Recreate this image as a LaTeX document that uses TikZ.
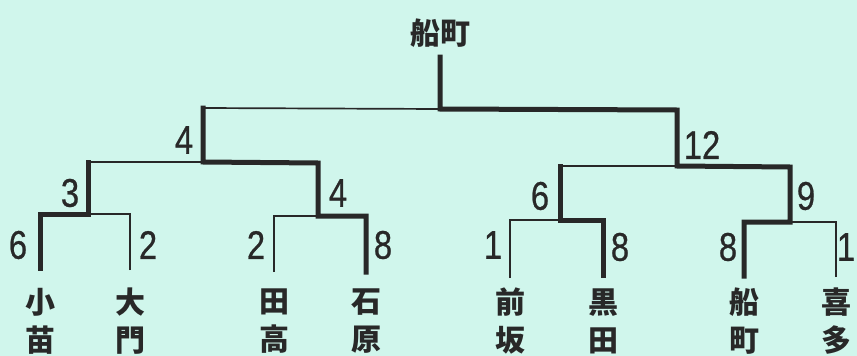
\documentclass[tikz,border=0pt]{standalone}
\usepackage{fontspec}
\newfontfamily\cjk{Noto Sans CJK JP}
\newfontfamily\numfont[FakeStretch=0.82,FakeBold=0.6]{Liberation Sans}
\definecolor{bg}{RGB}{208,246,236}
\definecolor{ink}{RGB}{40,40,40}
\begin{document}
\begin{tikzpicture}[x=1pt,y=-1pt,
  thickline/.style={draw=ink,line width=5pt,line join=miter,line cap=rect},
  thinline/.style={draw=ink,line width=1.7pt,line join=miter},
  num/.style={inner sep=0pt,text=ink,font=\numfont\fontsize{40}{40}\selectfont},
  team/.style={inner sep=0pt,text=ink,align=center,font=\cjk\bfseries\fontsize{30}{38}\selectfont}]
\fill[bg] (0,0) rectangle (857,356);
\clip (0,0) rectangle (857,356);
\useasboundingbox (0,0) rectangle (857,356);

% team names
\node[team] (t1) at (40,321) {小\\苗};
\node[team] (t2) at (130,321) {大\\門};
\node[team] (t3) at (274,321) {田\\高};
\node[team] (t4) at (366,321) {石\\原};
\node[team] (t5) at (510,321) {前\\坂};
\node[team] (t6) at (603,321) {黒\\田};
\node[team] (t7) at (744,321) {船\\町};
\node[team] (t8) at (836,321) {喜\\多};
\node[team] (champ) at (440,33) {船町};

% leaf tops
\coordinate (l1) at (40,268);  \coordinate (j1a) at (40,214);
\coordinate (l2) at (130,270); \coordinate (j1b) at (130,214);
\coordinate (l3) at (274,272); \coordinate (j2a) at (274,216);
\coordinate (l4) at (366,272); \coordinate (j2b) at (366,216);
\coordinate (l5) at (510,278); \coordinate (j3a) at (510,220);
\coordinate (l6) at (603,275); \coordinate (j3b) at (603,220);
\coordinate (l7) at (744,276); \coordinate (j4a) at (744,222);
\coordinate (l8) at (836,277); \coordinate (j4b) at (836,222);
% second level
\coordinate (m1) at (88,214);  \coordinate (m1t) at (88,162);
\coordinate (m2) at (318,216); \coordinate (m2t) at (318,163);
\coordinate (m3) at (560,220); \coordinate (m3t) at (560,166);
\coordinate (m4) at (790,222); \coordinate (m4t) at (790,167);
% third level
\coordinate (s1) at (203,162); \coordinate (s1t) at (203,108);
\coordinate (s2) at (677,166); \coordinate (s2t) at (677,110);
% final
\coordinate (f) at (440,109); \coordinate (ft) at (440,57);

% thin lines (losers)
\draw[thinline] (l2) -- (j1b) -- (m1);
\draw[thinline] (l3) -- (j2a) -- (m2);
\draw[thinline] (l5) -- (j3a) -- (m3);
\draw[thinline] (l8) -- (j4b) -- (m4);
\draw[thinline] (m1t) -- (s1);
\draw[thinline] (m3t) -- (s2);
\draw[thinline] (s1t) -- (f);

% thick lines (winners)
\draw[thickline] (l1) -- (j1a) -- (m1) -- (m1t);
\draw[thickline] (l4) -- (j2b) -- (m2) -- (m2t) -- (s1) -- (s1t);
\draw[thickline] (l6) -- (j3b) -- (m3) -- (m3t);
\draw[thickline] (l7) -- (j4a) -- (m4) -- (m4t) -- (s2) -- (s2t) -- (f) -- (ft);

% scores
\node[num] (c1) at (18,245) {6};
\node[num] (c2) at (148,245) {2};
\node[num] (c3) at (256,245) {2};
\node[num] (c4) at (383,245) {8};
\node[num] (c5) at (493,245) {1};
\node[num] (c6) at (620,247) {8};
\node[num] (c7) at (728,247) {8};
\node[num] (c8) at (846,247) {1};
\node[num] (d1) at (70,193) {3};
\node[num] (d2) at (338,193) {4};
\node[num] (d3) at (540,196) {6};
\node[num] (d4) at (806,196) {9};
\node[num] (e1) at (184,140) {4};
\node[num] (e2) at (702,145) {12};
\end{tikzpicture}
\end{document}
